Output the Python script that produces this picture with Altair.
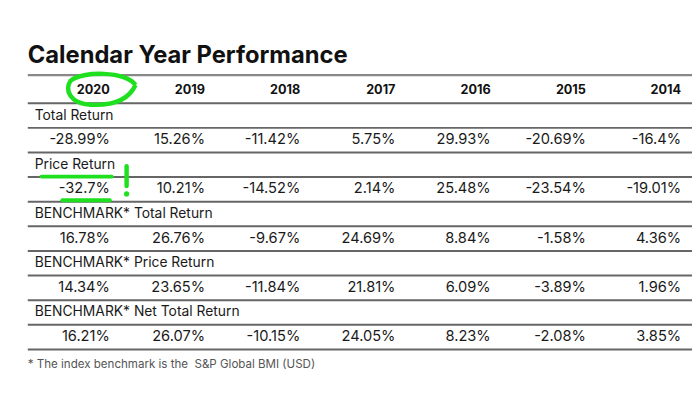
import altair as alt
import pandas as pd

# ---------------- data ----------------
title_text = "Calendar Year Performance"
years = ["2020", "2019", "2018", "2017", "2016", "2015", "2014"]
section_labels = [
    "Total Return",
    "Price Return",
    "BENCHMARK* Total Return",
    "BENCHMARK* Price Return",
    "BENCHMARK* Net Total Return",
]
total_return = [-28.99, 15.26, -11.42, 5.75, 29.93, -20.69, -16.4]
price_return = [-32.7, 10.21, -14.52, 2.14, 25.48, -23.54, -19.01]
bm_total_return = [16.78, 26.76, -9.67, 24.69, 8.84, -1.58, 4.36]
bm_price_return = [14.34, 23.65, -11.84, 21.81, 6.09, -3.89, 1.96]
bm_net_total_return = [16.21, 26.07, -10.15, 24.05, 8.23, -2.08, 3.85]
footnote = "* The index benchmark is the \u00a0S&P Global BMI (USD)"

series = [total_return, price_return, bm_total_return, bm_price_return, bm_net_total_return]

# ---------------- layout (pixel space of the page) ----------------
W, H = 692, 408
LEFT = 28
RIGHT = 700
COL0_RIGHT = 111
COL_STEP = 96.33
TOP_RULE = 73.5
HEADER_RULE = 102
ROW_STEP = 24.9
FONT = "Inter"
GREEN = "#1fe01f"

xs = alt.Scale(domain=[8, 8 + W], range=[0, W])
ys = alt.Scale(domain=[8, 8 + H], range=[0, H])


def col_x(i):
    return COL0_RIGHT + COL_STEP * i


# rules between rows
rule_rows = [{"x1": LEFT, "x2": RIGHT, "y": HEADER_RULE + ROW_STEP * k} for k in range(11)]
rules_df = pd.DataFrame(rule_rows)
top_rule_df = pd.DataFrame([{"x1": LEFT, "x2": RIGHT, "y": TOP_RULE}])

header_df = pd.DataFrame([{"x": col_x(i), "y": (TOP_RULE + HEADER_RULE) / 2 + 0.5, "t": y}
                          for i, y in enumerate(years)])

label_rows, value_rows = [], []
for s, (lab, vals) in enumerate(zip(section_labels, series)):
    ly = HEADER_RULE + ROW_STEP * (2 * s) + ROW_STEP / 2
    vy = HEADER_RULE + ROW_STEP * (2 * s + 1) + ROW_STEP / 2
    label_rows.append({"x": LEFT + 7, "y": ly, "t": lab})
    for i, v in enumerate(vals):
        value_rows.append({"x": col_x(i), "y": vy, "t": f"{v}%"})
labels_df = pd.DataFrame(label_rows)
values_df = pd.DataFrame(value_rows)

title_df = pd.DataFrame([{"x": LEFT, "y": 61, "t": title_text}])
foot_df = pd.DataFrame([{"x": LEFT, "y": HEADER_RULE + ROW_STEP * 10 + 15, "t": footnote}])

X = lambda f: alt.X(f"{f}:Q", scale=xs, axis=None)
Y = lambda f: alt.Y(f"{f}:Q", scale=ys, axis=None)

rules = alt.Chart(rules_df).mark_rule(color="#666666", strokeWidth=2).encode(
    x=X("x1"), x2="x2", y=Y("y"))
top_rule = alt.Chart(top_rule_df).mark_rule(color="#888888", strokeWidth=2.4).encode(
    x=X("x1"), x2="x2", y=Y("y"))

title = alt.Chart(title_df).mark_text(
    align="left", baseline="alphabetic", font=FONT, fontSize=24, fontWeight="bold", color="#111111"
).encode(x=X("x"), y=Y("y"), text="t:N")

header = alt.Chart(header_df).mark_text(
    align="right", baseline="middle", font=FONT, fontSize=12.8, fontWeight="bold", color="#111111"
).encode(x=X("x"), y=Y("y"), text="t:N")

labels = alt.Chart(labels_df).mark_text(
    align="left", baseline="middle", font=FONT, fontSize=14, color="#1a1a1a"
).encode(x=X("x"), y=Y("y"), text="t:N")

values = alt.Chart(values_df).mark_text(
    align="right", baseline="middle", font=FONT, fontSize=14.8, color="#1a1a1a"
).encode(x=X("x"), y=Y("y"), text="t:N")

foot = alt.Chart(foot_df).mark_text(
    align="left", baseline="middle", font=FONT, fontSize=11.7, color="#555555"
).encode(x=X("x"), y=Y("y"), text="t:N")

# ---------------- green hand annotations ----------------
hdr_y = (TOP_RULE + HEADER_RULE) / 2
ellipse_df = pd.DataFrame([{"x": col_x(0) - 9, "y": hdr_y}])
ellipse_path = ("M 1 -0.12 C 0.75 -0.52, -0.55 -0.54, -0.88 -0.24 "
                "C -1.05 0.02, -0.9 0.42, -0.3 0.45 C 0.3 0.48, 0.8 0.32, 1 -0.12")
ellipse = alt.Chart(ellipse_df).mark_point(
    shape=ellipse_path, filled=False, stroke=GREEN, strokeWidth=4.5, size=4900, opacity=1
).encode(x=X("x"), y=Y("y"))

pr_rule_y = HEADER_RULE + ROW_STEP * 3
under_df = pd.DataFrame([
    {"x1": LEFT + 14, "x2": col_x(0) + 2, "y": pr_rule_y - 0.5},
    {"x1": col_x(0) - 48, "x2": col_x(0), "y": pr_rule_y + 23.5},
])
underlines = alt.Chart(under_df).mark_rule(
    color=GREEN, strokeWidth=4, strokeCap="round"
).encode(x=X("x1"), x2="x2", y=Y("y"))

excl_df = pd.DataFrame([{"x": col_x(0) + 17, "y1": pr_rule_y - 11, "y2": pr_rule_y + 9}])
excl_bar = alt.Chart(excl_df).mark_rule(
    color=GREEN, strokeWidth=4.5, strokeCap="round"
).encode(x=X("x"), y=Y("y1"), y2="y2")
dot_df = pd.DataFrame([{"x": col_x(0) + 17, "y": pr_rule_y + 17}])
excl_dot = alt.Chart(dot_df).mark_point(
    shape="circle", filled=True, color=GREEN, size=28, opacity=1
).encode(x=X("x"), y=Y("y"))

chart = alt.layer(
    rules, top_rule, title, header, labels, values, foot,
    ellipse, underlines, excl_bar, excl_dot
).properties(
    width=W, height=H, padding=0, autosize=alt.AutoSizeParams(type="none"), background="white"
).configure_view(stroke=None)

chart.save("out.html", embed_options={"renderer": "svg", "actions": False})
